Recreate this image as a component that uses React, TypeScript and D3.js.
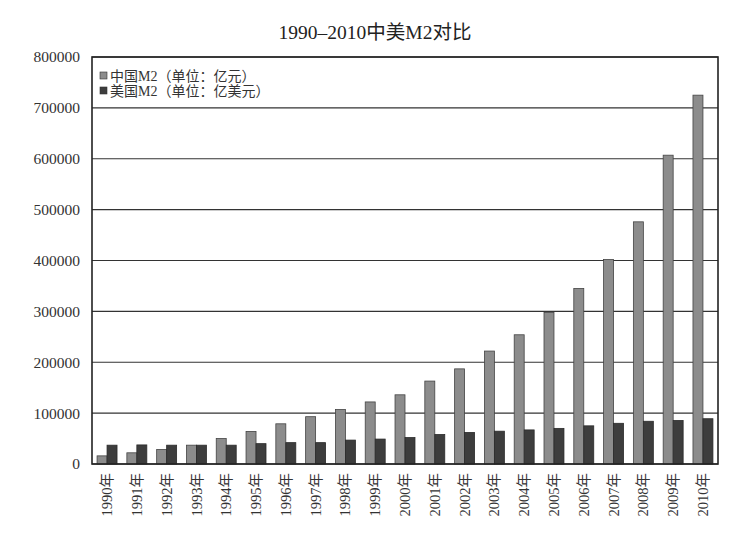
import { scaleBand, scaleLinear } from 'd3'

const years = [
  '1990', '1991', '1992', '1993', '1994', '1995', '1996', '1997', '1998', '1999', '2000',
  '2001', '2002', '2003', '2004', '2005', '2006', '2007', '2008', '2009', '2010',
]
const chinaM2 = [
  16000, 22000, 28500, 37000, 50000, 64000, 79000, 93000, 107000, 122000, 136000,
  163000, 187000, 222000, 254000, 298000, 345000, 402000, 476000, 607000, 725000,
]
const usM2 = [
  37000, 37500, 37000, 37000, 37000, 40000, 42000, 42000, 47000, 49000, 52000,
  58000, 62000, 64500, 67000, 70000, 75000, 80000, 84000, 85500, 89000,
]
const seriesNames = ['中国M2（单位：亿元）', '美国M2（单位：亿美元）']
const seriesColors = ['#8c8c8c', '#3d3d3d']
const yTicks = [0, 100000, 200000, 300000, 400000, 500000, 600000, 700000, 800000]
const title = '1990–2010中美M2对比'

const font = '"Liberation Serif", "Noto Sans CJK SC", serif'

export default function App() {
  const width = 746
  const height = 535
  const margin = { top: 57, right: 28, bottom: 71, left: 92 }
  const chartWidth = width - margin.left - margin.right
  const chartHeight = height - margin.top - margin.bottom

  const xScale = scaleBand().domain(years).range([0, chartWidth]).paddingInner(0.33).paddingOuter(0.17)
  const inner = scaleBand().domain(['cn', 'us']).range([0, xScale.bandwidth()])
  const yScale = scaleLinear().domain([0, 800000]).range([chartHeight, 0])

  return (
    <div style={{ position: 'absolute', left: 0, top: 0 }}>
      <svg width={width} height={height} style={{ display: 'block', background: '#fff' }}>
        <text x={375} y={39} textAnchor="middle" fontFamily={font} fontSize={19.5} fill="#222">
          {title}
        </text>
        <g transform={`translate(${margin.left},${margin.top})`}>
          {yTicks.map((tick) => (
            <g key={`tick-${tick}`}>
              <line x1={0} x2={chartWidth} y1={yScale(tick)} y2={yScale(tick)} stroke="#333" strokeWidth={1.2} />
              <text
                x={-12}
                y={yScale(tick)}
                dy="0.35em"
                textAnchor="end"
                fontFamily={font}
                fontSize={15.5}
                fill="#333"
              >
                {tick}
              </text>
            </g>
          ))}

          {years.map((year, i) => (
            <g key={year} transform={`translate(${xScale(year) ?? 0},0)`}>
              <rect
                x={inner('cn') ?? 0}
                y={yScale(chinaM2[i])}
                width={inner.bandwidth()}
                height={chartHeight - yScale(chinaM2[i])}
                fill={seriesColors[0]}
                stroke="#444"
                strokeWidth={0.8}
              />
              <rect
                x={inner('us') ?? 0}
                y={yScale(usM2[i])}
                width={inner.bandwidth()}
                height={chartHeight - yScale(usM2[i])}
                fill={seriesColors[1]}
                stroke="#2a2a2a"
                strokeWidth={0.8}
              />
            </g>
          ))}

          <rect x={0} y={0} width={chartWidth} height={chartHeight} fill="none" stroke="#222" strokeWidth={1.6} />

          {years.map((year) => (
            <text
              key={`label-${year}`}
              transform={`translate(${(xScale(year) ?? 0) + xScale.bandwidth() / 2},${chartHeight + 9}) rotate(-90)`}
              dy="0.35em"
              textAnchor="end"
              fontFamily={font}
              fontSize={14.5}
              fill="#333"
            >
              {`${year}年`}
            </text>
          ))}

          {seriesNames.map((name, i) => (
            <g key={name} transform={`translate(8,${19 + i * 15})`}>
              <rect x={0} y={-4} width={7} height={7} fill={seriesColors[i]} stroke="#333" strokeWidth={0.6} />
              <text x={10} y={0} dy="0.35em" fontFamily={font} fontSize={14} fill="#333">
                {name}
              </text>
            </g>
          ))}
        </g>
      </svg>
    </div>
  )
}
